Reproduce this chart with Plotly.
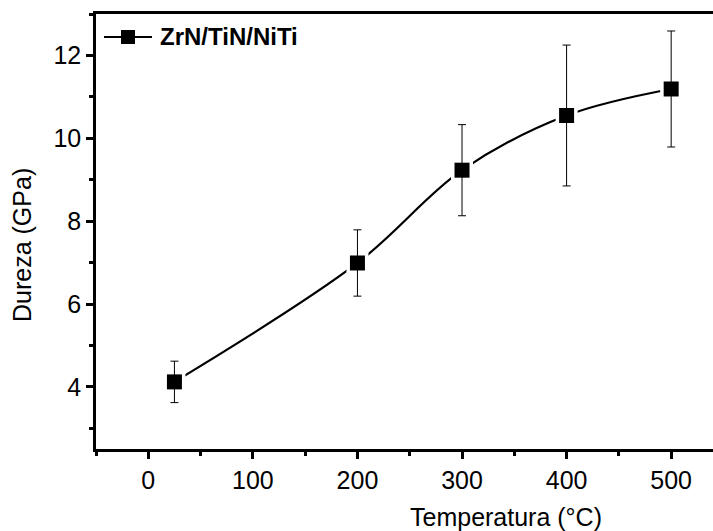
import plotly.graph_objects as go

# Hardness of the ZrN/TiN/NiTi coating versus annealing temperature
temperatura = [25, 200, 300, 400, 500]
dureza = [4.12, 6.99, 9.23, 10.55, 11.19]
erro = [0.50, 0.80, 1.10, 1.70, 1.40]

serie = "ZrN/TiN/NiTi"
x_ticks = [0, 100, 200, 300, 400, 500]
y_ticks = [4, 6, 8, 10, 12]

FONT = "Liberation Sans, Arial, sans-serif"

W, H = 713, 531
L, R, T, B = 96, 0, 14, 82
PW, PH = W - L - R, H - T - B


def px_x(p):
    return (p - L) / PW


def px_y(p):
    return (H - B - p) / PH


fig = go.Figure()

# smooth connecting curve
fig.add_trace(go.Scatter(
    x=temperatura, y=dureza, mode="lines",
    line=dict(color="black", width=2.2, shape="spline", smoothing=1),
    showlegend=False, hoverinfo="skip",
))
# white halo behind each marker so the curve stops short of the squares
fig.add_trace(go.Scatter(
    x=temperatura, y=dureza, mode="markers",
    marker=dict(symbol="square", size=22, color="white", line=dict(width=0)),
    showlegend=False, hoverinfo="skip",
))
# data points with error bars
fig.add_trace(go.Scatter(
    x=temperatura, y=dureza, mode="markers",
    marker=dict(symbol="square", size=15, color="black", line=dict(width=0)),
    error_y=dict(type="data", array=erro, visible=True,
                 color="black", thickness=1, width=4),
    showlegend=False,
))

# legend key drawn in the upper-left corner: line, square, bold label
leg_y = 37
shapes = [
    dict(type="line", xref="paper", yref="paper",
         x0=px_x(104), x1=px_x(152), y0=px_y(leg_y), y1=px_y(leg_y),
         line=dict(color="black", width=2)),
    dict(type="rect", xref="paper", yref="paper",
         x0=px_x(121), x1=px_x(135), y0=px_y(leg_y + 7), y1=px_y(leg_y - 7),
         fillcolor="black", line=dict(width=0)),
]

fig.update_layout(
    width=W, height=H,
    margin=dict(l=L, r=R, t=T, b=B),
    paper_bgcolor="white", plot_bgcolor="white",
    font=dict(family=FONT, color="black", size=25),
    showlegend=False,
    xaxis=dict(
        range=[-50, 540], tickvals=x_ticks,
        showgrid=False, zeroline=False,
        showline=True, linecolor="black", linewidth=2.5, mirror=True,
        ticks="outside", ticklen=7, tickwidth=2.5, tickcolor="black",
        minor=dict(dtick=50, ticks="outside", ticklen=4, tickwidth=2.5, tickcolor="black"),
        tickfont=dict(size=25),
    ),
    yaxis=dict(
        range=[2.5, 13], tickvals=y_ticks,
        showgrid=False, zeroline=False,
        showline=True, linecolor="black", linewidth=2.5,
        ticks="outside", ticklen=7, tickwidth=2.5, tickcolor="black",
        minor=dict(dtick=1, ticks="outside", ticklen=4, tickwidth=2.5, tickcolor="black"),
        tickfont=dict(size=25),
    ),
    shapes=shapes,
    annotations=[
        dict(text="Temperatura (°C)", xref="paper", yref="paper",
             x=px_x(506), y=0, xanchor="center", yanchor="top",
             yshift=-52, showarrow=False, font=dict(size=25)),
        dict(text="Dureza (GPa)", xref="paper", yref="paper",
             x=px_x(22), y=px_y(245), xanchor="center", yanchor="middle",
             textangle=-90, showarrow=False, font=dict(size=25)),
        dict(text="<b>" + serie + "</b>", xref="paper", yref="paper",
             x=px_x(158), y=px_y(leg_y), xanchor="left", yanchor="middle",
             showarrow=False, font=dict(size=24)),
    ],
)

fig.write_html("out.html")
